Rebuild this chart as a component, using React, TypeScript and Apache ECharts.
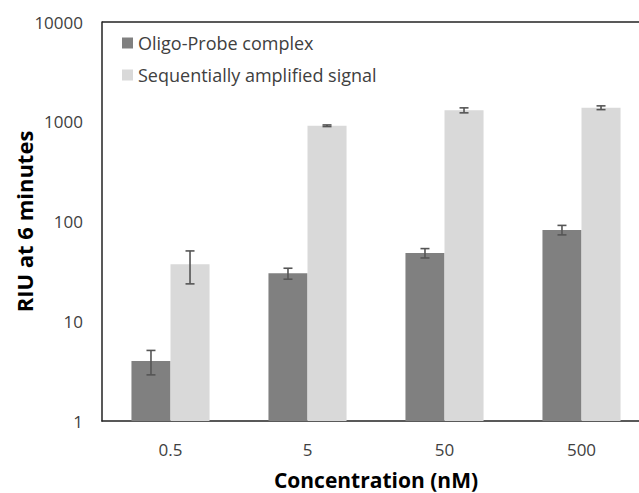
import React, { useEffect, useRef } from "react";
import * as echarts from "echarts";

const categories = ["0.5", "5", "50", "500"];
const oligoValues = [4.0, 30.2, 48.3, 82.4];
const oligoErrors = [1.1, 3.8, 5.2, 9.0];
const ampValues = [37.2, 912, 1303, 1383];
const ampErrors = [13.5, 17, 75, 60];
const seriesNames = ["Oligo-Probe complex", "Sequentially amplified signal"];

const FONT = "Open Sans";
const CAT_GAP = 0.43;
const FRAME = { color: "#222222", width: 1.5 };

function errorSeries(values: number[], errors: number[], sign: number) {
  return {
    type: "custom",
    z: 10,
    silent: true,
    encode: { x: 0, y: 1 },
    data: values.map((v, i) => [i, v, errors[i]]),
    renderItem: (params: any, api: any) => {
      const idx = api.value(0);
      const v = api.value(1);
      const e = api.value(2);
      const c0 = api.coord([0, v]);
      const c1 = api.coord([1, v]);
      const band = Math.abs(c1[0] - c0[0]);
      const off = (sign * band * (1 - CAT_GAP)) / 4;
      const top = api.coord([idx, v + e]);
      const bot = api.coord([idx, Math.max(v - e, 1e-6)]);
      const x = top[0] + off;
      const cap = 4.5;
      const style = { stroke: "#555555", lineWidth: 1.6 };
      return {
        type: "group",
        children: [
          { type: "line", shape: { x1: x, y1: top[1], x2: x, y2: bot[1] }, style },
          { type: "line", shape: { x1: x - cap, y1: top[1], x2: x + cap, y2: top[1] }, style },
          { type: "line", shape: { x1: x - cap, y1: bot[1], x2: x + cap, y2: bot[1] }, style },
        ],
      };
    },
  };
}

export default function App() {
  const ref = useRef<HTMLDivElement>(null);
  useEffect(() => {
    document.body.style.margin = "0";
    document.documentElement.style.overflow = "hidden";
    document.body.style.overflow = "hidden";
    if (!ref.current) return;
    const chart = echarts.init(ref.current, null, { renderer: "svg" });
    chart.setOption({
      animation: false,
      backgroundColor: "#ffffff",
      grid: {
        left: 102,
        top: 22,
        width: 548,
        height: 399,
        show: false,
        outerBoundsMode: "none",
      },
      legend: {
        orient: "vertical",
        left: 122,
        top: 34,
        padding: 0,
        itemWidth: 11,
        itemHeight: 11,
        itemGap: 14,
        icon: "rect",
        data: seriesNames,
        textStyle: { fontFamily: FONT, fontSize: 18, color: "#404040", lineHeight: 18 },
      },
      xAxis: {
        type: "category",
        data: categories,
        axisLine: { show: true, lineStyle: FRAME },
        axisTick: { show: false },
        axisLabel: { fontFamily: FONT, fontSize: 17, color: "#404040", margin: 20 },
        splitLine: { show: false },
      },
      yAxis: {
        type: "log",
        logBase: 10,
        min: 1,
        max: 10000,
        axisLine: { show: true, lineStyle: FRAME },
        axisTick: { show: false },
        splitLine: { show: false },
        axisLabel: {
          fontFamily: FONT,
          fontSize: 17,
          color: "#404040",
          margin: 19,
          formatter: (v: number) => String(Math.round(v)),
        },
      },
      graphic: [
        {
          type: "line",
          shape: { x1: 102, y1: 22, x2: 639, y2: 22 },
          style: { stroke: FRAME.color, lineWidth: FRAME.width },
        },
        {
          type: "text",
          x: 376,
          y: 480,
          style: {
            text: "Concentration (nM)",
            fontFamily: FONT,
            fontSize: 21,
            lineHeight: 23,
            fontWeight: "bold",
            fill: "#000000",
            align: "center",
            verticalAlign: "middle",
          },
        },
        {
          type: "text",
          x: 24,
          y: 221.5,
          rotation: Math.PI / 2,
          style: {
            text: "RIU at 6 minutes",
            fontFamily: FONT,
            fontSize: 22,
            fontWeight: "bold",
            fill: "#000000",
            align: "center",
            verticalAlign: "middle",
          },
        },
      ],
      series: [
        {
          name: seriesNames[0],
          type: "bar",
          data: oligoValues,
          barGap: "0%",
          barCategoryGap: CAT_GAP * 100 + "%",
          itemStyle: { color: "#808080" },
        },
        {
          name: seriesNames[1],
          type: "bar",
          data: ampValues,
          barGap: "0%",
          barCategoryGap: CAT_GAP * 100 + "%",
          itemStyle: { color: "#d9d9d9" },
        },
        errorSeries(oligoValues, oligoErrors, -1),
        errorSeries(ampValues, ampErrors, 1),
      ],
    });
    return () => chart.dispose();
  }, []);
  return <div ref={ref} style={{ width: 639, height: 493, overflow: "hidden" }} />;
}
